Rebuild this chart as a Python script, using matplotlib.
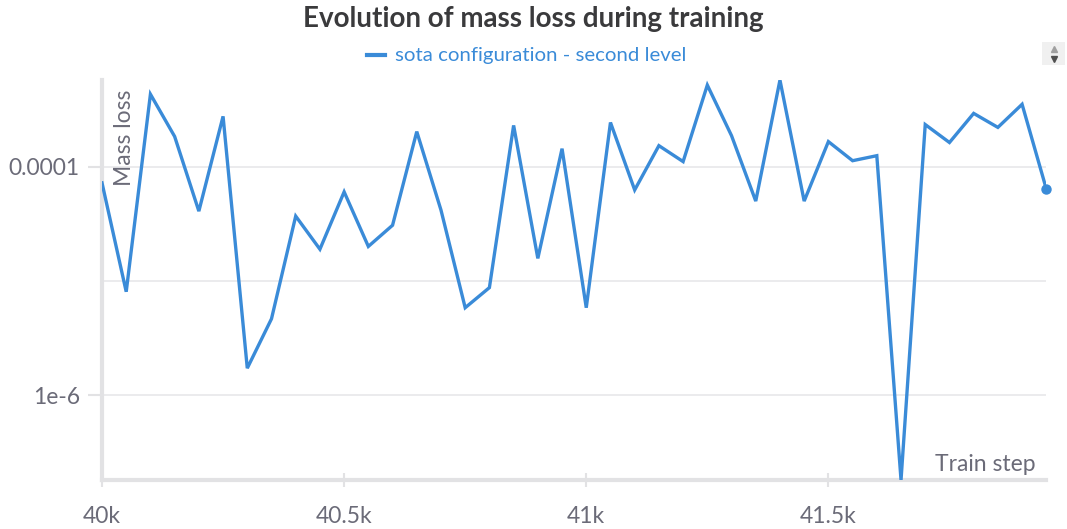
import matplotlib
matplotlib.use("Agg")
import matplotlib.pyplot as plt
import matplotlib.ticker as mticker
from matplotlib.patches import Rectangle

plt.rcParams['font.family'] = ['Lato', 'DejaVu Sans']

title = "Evolution of mass loss during training"
series_name = "sota configuration - second level"
x_label = "Train step"
y_label = "Mass loss"

steps = list(range(40000, 42000, 50))
mass_loss = [
    7.23e-5, 8.07e-6, 4.31e-4, 1.84e-4, 4.09e-5, 2.76e-4, 1.73e-6, 4.68e-6,
    3.70e-5, 1.90e-5, 6.03e-5, 2.01e-5, 3.08e-5, 2.03e-4, 4.18e-5, 5.85e-6,
    8.77e-6, 2.30e-4, 1.58e-5, 1.44e-4, 5.85e-6, 2.44e-4, 6.27e-5, 1.53e-4,
    1.11e-4, 5.18e-4, 1.87e-4, 5.01e-5, 5.73e-4, 5.01e-5, 1.66e-4, 1.13e-4,
    1.25e-4, 1.82e-7, 2.34e-4, 1.63e-4, 2.93e-4, 2.21e-4, 3.52e-4, 6.40e-5,
]
x_ticks = [40000, 40500, 41000, 41500]
x_tick_labels = ["40k", "40.5k", "41k", "41.5k"]
y_ticks = [1e-6, 1e-4]
y_tick_labels = ["1e-6", "0.0001"]

line_color = "#3a8bd8"
tick_color = "#6b6b78"
grid_color = "#e8e8ea"
spine_color = "#e2e2e4"

fig = plt.figure(figsize=(10.67, 5.29), dpi=100)
ax = fig.add_axes([0.0956, 0.0926, 0.885, 0.756])

ax.plot(steps, mass_loss, color=line_color, lw=2.4, solid_joinstyle='miter', zorder=3)
ax.plot(steps[-1], mass_loss[-1], 'o', color=line_color, ms=6.5, zorder=4, clip_on=False)

ax.set_yscale('log')
ax.set_xlim(steps[0], steps[-1])
ax.set_ylim(min(mass_loss), max(mass_loss))

ax.set_xticks(x_ticks)
ax.set_xticklabels(x_tick_labels)
ax.set_yticks(y_ticks)
ax.set_yticklabels(y_tick_labels)
ax.yaxis.set_minor_locator(mticker.NullLocator())

for v in [1e-6, 1e-5, 1e-4]:
    ax.axhline(v, color=grid_color, lw=1.2, zorder=1)

ax.tick_params(axis='both', colors=spine_color, labelcolor=tick_color, labelsize=16.5,
               length=10, width=1.5)
ax.tick_params(axis='x', direction='inout', pad=14)
ax.tick_params(axis='y', direction='out', pad=6)

for s in ['top', 'right']:
    ax.spines[s].set_visible(False)
for s in ['left', 'bottom']:
    ax.spines[s].set_color(spine_color)
    ax.spines[s].set_linewidth(3)

ax.text(0.013, 0.975, y_label, transform=ax.transAxes, rotation=90, ha='left', va='top',
        color=tick_color, fontsize=16.5)
ax.text(0.989, 0.012, x_label, transform=ax.transAxes, ha='right', va='bottom',
        color=tick_color, fontsize=16.5)

fig.text(0.5, 0.965, title, ha='center', va='center', fontsize=20, fontweight='bold',
         color='#3a3a3c')

# legend
leg_y = 0.896
fig.lines.append(plt.Line2D([0.344, 0.361], [leg_y, leg_y], transform=fig.transFigure,
                            color=line_color, lw=3))
fig.text(0.37, leg_y, series_name, ha='left', va='center', fontsize=14.7, color=line_color)

# scroll control
fig.patches.append(Rectangle((0.977, 0.878), 0.0215, 0.042, transform=fig.transFigure,
                             facecolor='#f0f0f0', edgecolor='none'))
fig.lines.append(plt.Line2D([0.9875], [0.908], transform=fig.transFigure, marker='^',
                            color='#a0a0a0', ms=5, ls='none'))
fig.lines.append(plt.Line2D([0.9875], [0.889], transform=fig.transFigure, marker='v',
                            color='#505050', ms=5, ls='none'))

fig.savefig("out.png", dpi=100)
